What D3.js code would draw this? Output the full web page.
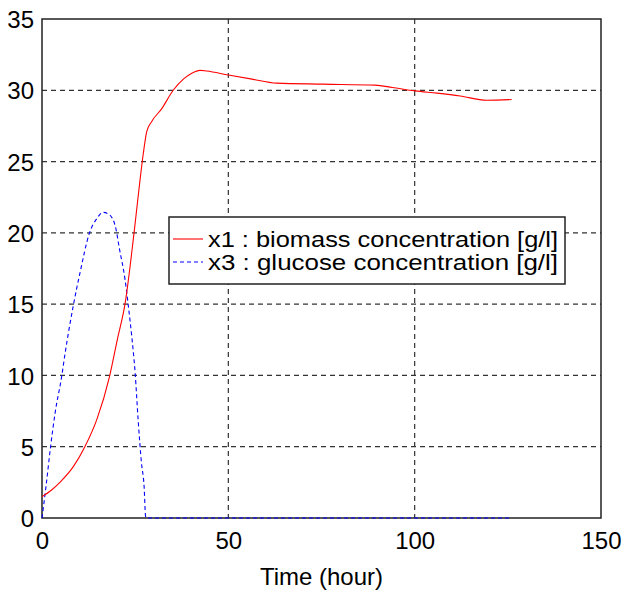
<!DOCTYPE html>
<html>
<head>
<meta charset="utf-8">
<script src="https://cdn.jsdelivr.net/npm/d3@7/dist/d3.min.js"></script>
<style>
body { margin: 0; background: #fff; }
text { font-family: "Liberation Sans", Arial, sans-serif; }
</style>
</head>
<body>
<svg id="chart"></svg>
<script>
// biomass x1 [g/l] over time [hour]
var biomassTime = [0, 2.5, 4.8, 8.4, 11.5, 14.7, 18.1, 20.2, 22.3, 24.7, 26.3, 27.2, 28.1, 29.4, 32.1, 35.2, 38.0, 40.2, 42.4, 44.2, 50, 56, 63, 75.5, 89.4, 94, 100.1, 106, 112.2, 119.3, 126];
var biomassValue = [1.5, 1.95, 2.5, 3.6, 5.0, 6.9, 9.9, 12.5, 15.05, 20.0, 23.7, 25.6, 27.1, 27.8, 28.7, 30.0, 30.8, 31.2, 31.4, 31.35, 31.07, 30.8, 30.5, 30.43, 30.36, 30.2, 29.96, 29.8, 29.6, 29.3, 29.35];

// glucose x3 [g/l] over time [hour]
var glucoseTime = [0, 1.07, 2.3, 3.5, 5.3, 6.2, 8.4, 10.2, 12.7, 14.7, 16.4, 18.2, 19.9, 20.7, 22.3, 23.2, 24.1, 25.0, 25.8, 26.7, 27.4, 27.8, 28, 126];
var glucoseValue = [0, 2.2, 5.0, 7.34, 9.96, 11.55, 14.9, 17.2, 19.96, 21.0, 21.44, 21.25, 20.2, 19.0, 16.7, 14.8, 12.7, 10.15, 6.87, 3.84, 2.2, 0.1, 0, 0];

var xTicks = [0, 50, 100, 150];
var yTicks = [0, 5, 10, 15, 20, 25, 30, 35];
var legendLabels = ["x1  : biomass concentration [g/l]", "x3  : glucose concentration [g/l]"];

var width = 624;
var height = 590;
var plotLeft = 42, plotRight = 601, plotTop = 19, plotBottom = 518;

var svg = d3.select("#chart")
    .attr("width", width)
    .attr("height", height);

var xScale = d3.scaleLinear().domain([0, 150]).range([plotLeft, plotRight]);
var yScale = d3.scaleLinear().domain([0, 35]).range([plotBottom, plotTop]);

// grid
svg.append("g")
    .selectAll("line")
    .data(yTicks.slice(1, -1))
    .enter()
    .append("line")
    .attr("x1", plotLeft).attr("x2", plotRight)
    .attr("y1", function(d) { return yScale(d); })
    .attr("y2", function(d) { return yScale(d); })
    .attr("stroke", "#333")
    .attr("stroke-width", 1.2)
    .attr("stroke-dasharray", "5,4");

svg.append("g")
    .selectAll("line")
    .data(xTicks.slice(1, -1))
    .enter()
    .append("line")
    .attr("y1", plotTop).attr("y2", plotBottom)
    .attr("x1", function(d) { return xScale(d); })
    .attr("x2", function(d) { return xScale(d); })
    .attr("stroke", "#333")
    .attr("stroke-width", 1.2)
    .attr("stroke-dasharray", "5,4");

// axes
var xAxis = d3.axisBottom(xScale).tickValues(xTicks).tickSize(0).tickPadding(14);
var yAxis = d3.axisLeft(yScale).tickValues(yTicks).tickSize(0).tickPadding(8);

var gx = svg.append("g").attr("transform", "translate(0," + plotBottom + ")").call(xAxis);
var gy = svg.append("g").attr("transform", "translate(" + plotLeft + ",0)").call(yAxis);
[gx, gy].forEach(function(g) {
    g.select(".domain").remove();
    g.selectAll("text")
        .attr("font-size", 24)
        .attr("fill", "#000")
        .style("font-family", "'Liberation Sans', Arial, sans-serif");
});
gy.selectAll("text").attr("dy", "0.36em");

// frame
svg.append("rect")
    .attr("x", plotLeft).attr("y", plotTop)
    .attr("width", plotRight - plotLeft).attr("height", plotBottom - plotTop)
    .attr("fill", "none")
    .attr("stroke", "#222")
    .attr("stroke-width", 1.5);

var line = d3.line()
    .x(function(d) { return xScale(d[0]); })
    .y(function(d) { return yScale(d[1]); })
    .curve(d3.curveMonotoneX);

var biomass = d3.zip(biomassTime, biomassValue);
var glucose = d3.zip(glucoseTime, glucoseValue);

svg.append("path")
    .datum(glucose)
    .attr("d", line)
    .attr("fill", "none")
    .attr("stroke", "#0000ff")
    .attr("stroke-width", 1.1)
    .attr("stroke-dasharray", "4,3");

svg.append("path")
    .datum(biomass)
    .attr("d", line)
    .attr("fill", "none")
    .attr("stroke", "#ff0000")
    .attr("stroke-width", 1.1);

// legend
var legend = svg.append("g");
legend.append("rect")
    .attr("x", 169).attr("y", 217)
    .attr("width", 396).attr("height", 67)
    .attr("fill", "#fff")
    .attr("stroke", "#222")
    .attr("stroke-width", 1.5);

var legendColors = ["#ff0000", "#0000ff"];
var legendDash = [null, "4,3"];
legendLabels.forEach(function(label, i) {
    var y = 239 + i * 23;
    legend.append("line")
        .attr("x1", 173).attr("x2", 203)
        .attr("y1", y).attr("y2", y)
        .attr("stroke", legendColors[i])
        .attr("stroke-width", 1.1)
        .attr("stroke-dasharray", legendDash[i]);
    legend.append("text")
        .attr("x", 208)
        .attr("y", y + 8)
        .attr("font-size", 22)
        .attr("textLength", 350)
        .attr("lengthAdjust", "spacingAndGlyphs")
        .text(label);
});

// x label
svg.append("text")
    .attr("x", (plotLeft + plotRight) / 2)
    .attr("y", 585)
    .attr("text-anchor", "middle")
    .attr("font-size", 24)
    .text("Time (hour)");
</script>
</body>
</html>
